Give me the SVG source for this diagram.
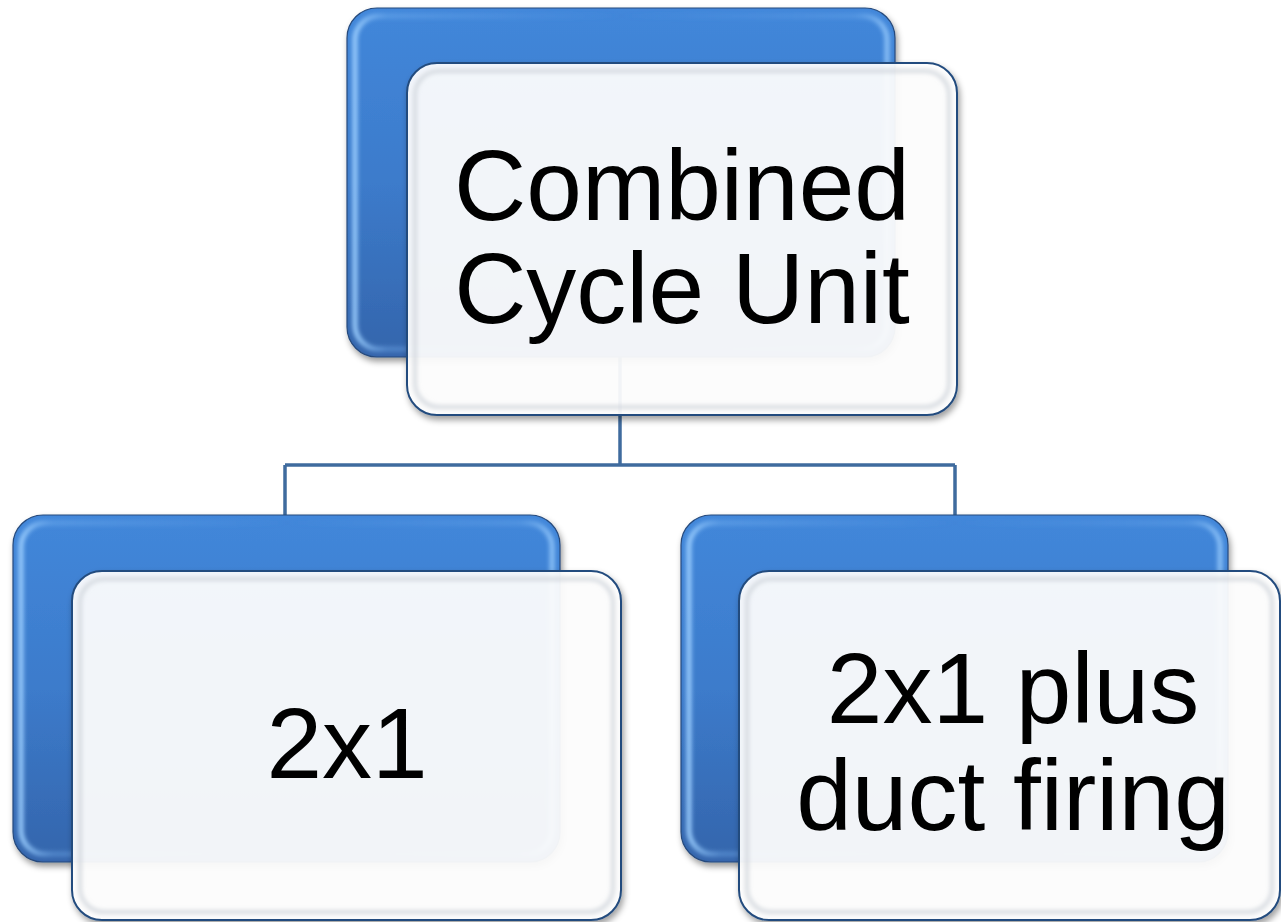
<svg xmlns="http://www.w3.org/2000/svg" width="1281" height="922" viewBox="0 0 1281 922">
  <defs>
    <linearGradient id="blueFill" x1="0" y1="0" x2="0" y2="1">
      <stop offset="0" stop-color="#4287DA"/>
      <stop offset="0.5" stop-color="#3C7BCB"/>
      <stop offset="1" stop-color="#3465AC"/>
    </linearGradient>
    <linearGradient id="bevelL" x1="0" y1="0" x2="1" y2="0">
      <stop offset="0" stop-color="#9ED0FF" stop-opacity="0.95"/>
      <stop offset="0.06" stop-color="#7DB8F5" stop-opacity="0.4"/>
      <stop offset="0.5" stop-color="#6AA8EE" stop-opacity="0"/>
      <stop offset="0.94" stop-color="#7DB8F5" stop-opacity="0.3"/>
      <stop offset="1" stop-color="#9ED0FF" stop-opacity="0.8"/>
    </linearGradient>
    <filter id="shadow" x="-5%" y="-5%" width="112%" height="115%">
      <feDropShadow dx="2" dy="4" stdDeviation="3" flood-color="#000000" flood-opacity="0.4"/>
    </filter>
    <filter id="soft" x="-5%" y="-5%" width="110%" height="110%">
      <feGaussianBlur stdDeviation="2"/>
    </filter>
    <style>
      .back { fill: url(#blueFill); stroke: #264A7C; stroke-width: 1.2; }
      .backBevel { fill: none; stroke: url(#bevelL); stroke-width: 5; }
      .front { fill: #FFFFFF; fill-opacity: 0.92; stroke: #244C7E; stroke-width: 2; }
      .frontBevel { fill: none; stroke: #C9CED6; stroke-width: 4; stroke-opacity: 0.7; }
      .conn { fill: none; stroke: #3F6B9E; stroke-width: 3.5; }
      .label { font-family: "Liberation Sans", Arial, sans-serif; font-size: 100px; fill: #000000; text-anchor: middle; }
    </style>
  </defs>

  <g id="connectors">
    <path class="conn" d="M620,357 V465"/>
    <path class="conn" d="M285,465 H955"/>
    <path class="conn" d="M285,465 V515"/>
    <path class="conn" d="M955,465 V515"/>
  </g>

  <g id="node-combined-cycle-unit">
    <rect class="back" x="347" y="8" width="548" height="349" rx="30" filter="url(#shadow)"/>
    <rect class="backBevel" x="355" y="16" width="532" height="333" rx="24" filter="url(#soft)"/>
    <rect class="front" x="407" y="63" width="550" height="352" rx="30" filter="url(#shadow)"/>
    <rect class="frontBevel" x="415" y="71" width="534" height="336" rx="24" filter="url(#soft)"/>
    <text class="label" x="682" y="220">Combined</text>
    <text class="label" x="682" y="323">Cycle Unit</text>
  </g>

  <g id="node-2x1">
    <rect class="back" x="13" y="515" width="547" height="347" rx="30" filter="url(#shadow)"/>
    <rect class="backBevel" x="21" y="523" width="531" height="331" rx="24" filter="url(#soft)"/>
    <rect class="front" x="72" y="571" width="549" height="349" rx="30" filter="url(#shadow)"/>
    <rect class="frontBevel" x="80" y="579" width="533" height="333" rx="24" filter="url(#soft)"/>
    <text class="label" x="347" y="778">2x1</text>
  </g>

  <g id="node-2x1-plus-duct-firing">
    <rect class="back" x="681" y="515" width="547" height="347" rx="30" filter="url(#shadow)"/>
    <rect class="backBevel" x="689" y="523" width="531" height="331" rx="24" filter="url(#soft)"/>
    <rect class="front" x="739" y="571" width="541" height="349" rx="30" filter="url(#shadow)"/>
    <rect class="frontBevel" x="747" y="579" width="525" height="333" rx="24" filter="url(#soft)"/>
    <text class="label" x="1013" y="723">2x1 plus</text>
    <text class="label" x="1013" y="830">duct firing</text>
  </g>
</svg>
